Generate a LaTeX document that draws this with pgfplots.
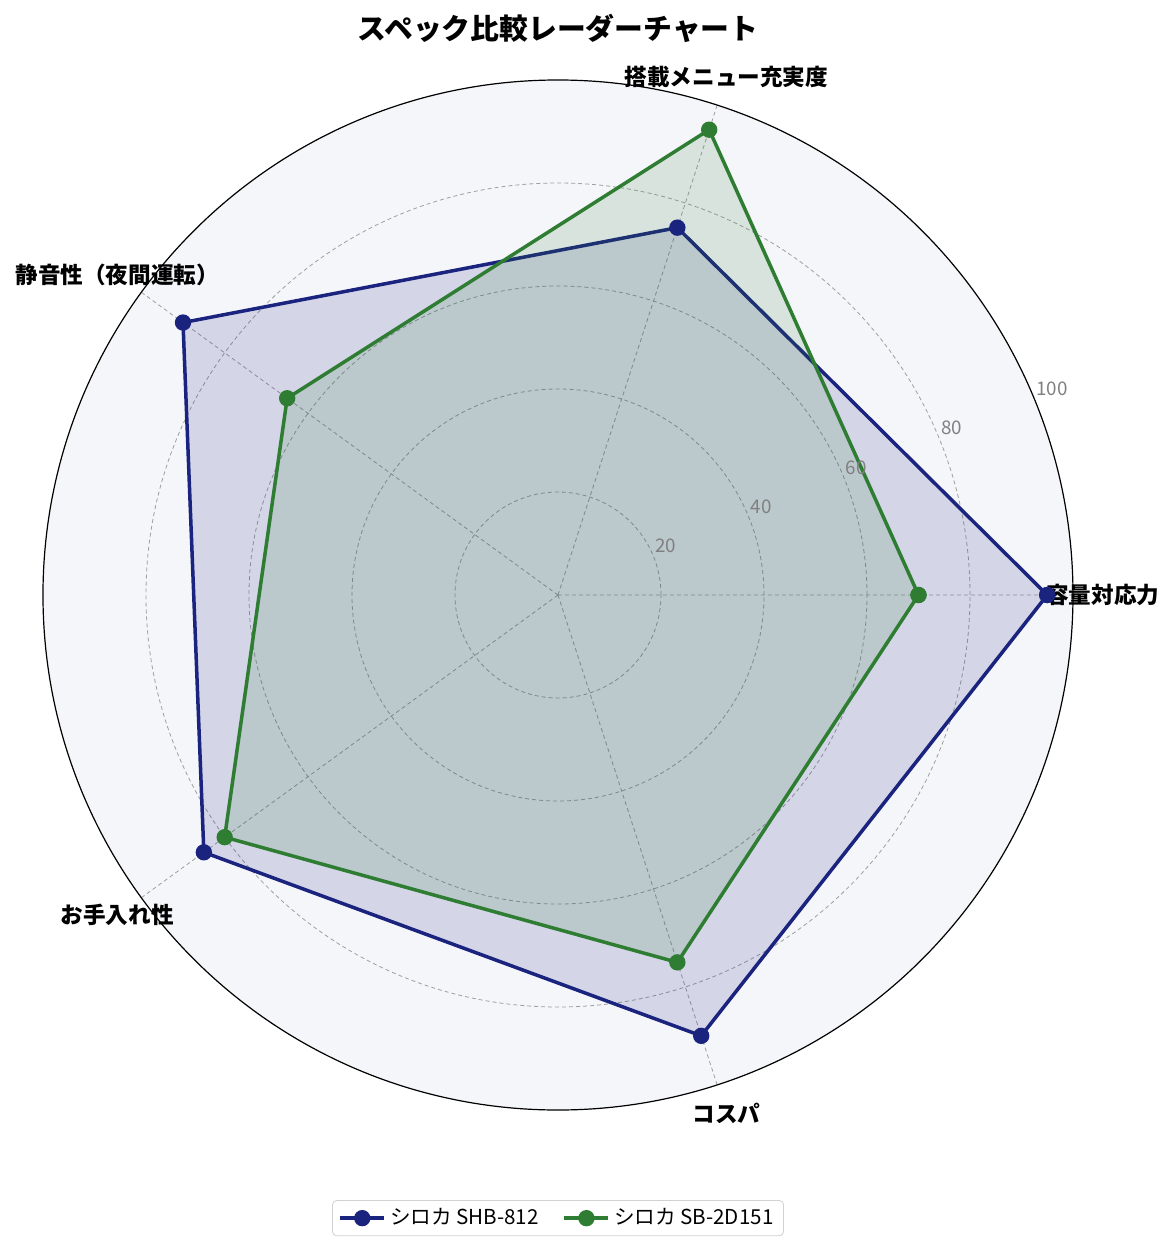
\documentclass[border=0pt]{standalone}
\usepackage{fontspec}
\setmainfont{Noto Sans CJK JP}
\usepackage{pgfplots}
\pgfplotsset{compat=1.18}
\usepgfplotslibrary{polar}
\definecolor{shb}{HTML}{1A237E}
\definecolor{sbd}{HTML}{2E7D32}
\definecolor{bgc}{HTML}{F5F6FA}
\tikzset{
  rtick/.style={anchor=south west, inner sep=1pt, text=gray, font=\fontsize{9.4}{11}\selectfont},
  cat/.style={font=\bfseries\fontsize{11.3}{13}\selectfont},
}
\begin{document}
\begin{tikzpicture}
\path[use as bounding box] (-279pt,-328pt) rectangle (308.5pt,297.5pt);
\begin{polaraxis}[
  at={(0,0)}, anchor=center,
  scale only axis, width=515pt, height=515pt,
  ymin=0, ymax=100,
  xtick={0,72,144,216,288}, xticklabels={},
  ytick={20,40,60,80}, yticklabels={},
  major tick length=0pt,
  xmajorgrids, ymajorgrids,
  major grid style={gray!75, dash pattern=on 2pt off 1.5pt, line width=0.4pt},
  x axis line style={black, line width=0.6pt},
  y axis line style={draw=none},
  axis background/.style={fill=bgc},
  clip=false,
  legend style={at={(0.5,-0.105)}, anchor=center, legend columns=2,
    font=\fontsize{10.3}{12}\selectfont, draw=gray!35, rounded corners=2pt,
    inner xsep=3pt, inner ysep=2pt,
    /tikz/every even column/.append style={column sep=10pt}},
  legend image code/.code={
    \draw[mark repeat=2, mark phase=2, #1] plot coordinates {(0pt,0pt) (11pt,0pt) (22pt,0pt)};},
]
% series: angle, score
\addplot[draw=shb, line width=1.75pt, mark=*, mark size=3.2pt, mark options={fill=shb}]
  coordinates {(0,95) (72,75) (144,90) (216,85) (288,90) (360,95)};
\addlegendentry{シロカ SHB-812}
\addplot[draw=none, fill=shb, fill opacity=0.15, forget plot]
  coordinates {(0,95) (72,75) (144,90) (216,85) (288,90) (360,95)};
\addplot[draw=sbd, line width=1.75pt, mark=*, mark size=3.2pt, mark options={fill=sbd}]
  coordinates {(0,70) (72,95) (144,65) (216,80) (288,75) (360,70)};
\addlegendentry{シロカ SB-2D151}
\addplot[draw=none, fill=sbd, fill opacity=0.15, forget plot]
  coordinates {(0,70) (72,95) (144,65) (216,80) (288,75) (360,70)};

\node[rtick] at (axis cs:22.5,20) {20};
\node[rtick] at (axis cs:22.5,40) {40};
\node[rtick] at (axis cs:22.5,60) {60};
\node[rtick] at (axis cs:22.5,80) {80};
\node[rtick] at (axis cs:22.5,100) {100};
\node[cat] at (axis cs:0,105.8) {容量対応力};
\node[cat] at (axis cs:72,105.8) {搭載メニュー充実度};
\node[cat] at (axis cs:144,105.8) {静音性（夜間運転）};
\node[cat] at (axis cs:216,105.8) {お手入れ性};
\node[cat] at (axis cs:288,105.8) {コスパ};
\end{polaraxis}
\node[font=\bfseries\fontsize{14.4}{17}\selectfont] at (0pt,283.5pt) {スペック比較レーダーチャート};
\end{tikzpicture}
\end{document}
